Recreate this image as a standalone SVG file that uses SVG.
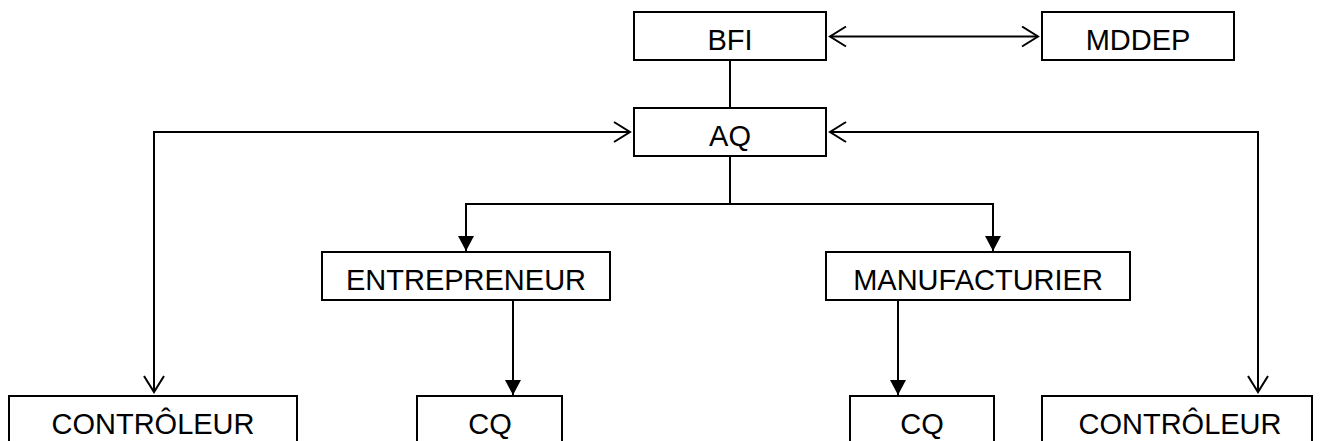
<svg xmlns="http://www.w3.org/2000/svg" width="1320" height="441" viewBox="0 0 1320 441">
<style>
  .box { fill: #ffffff; stroke: #000000; stroke-width: 2; }
  .lbl { font-family: "Liberation Sans", Arial, sans-serif; font-size: 29px; fill: #000000; text-anchor: middle; }
  .ln { fill: none; stroke: #000000; stroke-width: 2; }
</style>
<defs>
  <marker id="open" markerUnits="userSpaceOnUse" markerWidth="22" markerHeight="26" refX="18" refY="11" orient="auto-start-reverse">
    <path d="M2,1 L18,11 L2,21" fill="none" stroke="#000000" stroke-width="2"/>
  </marker>
  <marker id="solid" markerUnits="userSpaceOnUse" markerWidth="16" markerHeight="18" refX="15" refY="8" orient="auto">
    <path d="M0,0 L15,8 L0,16 Z" fill="#000000"/>
  </marker>
</defs>
<g id="connectors">
  <path class="ln" d="M830,36.5 H1038" marker-start="url(#open)" marker-end="url(#open)"/>
  <path class="ln" d="M730,60 V108"/>
  <path class="ln" d="M630,132 H154 V392" marker-start="url(#open)" marker-end="url(#open)"/>
  <path class="ln" d="M830,132 H1258 V392" marker-start="url(#open)" marker-end="url(#open)"/>
  <path class="ln" d="M730,156 V204"/>
  <path class="ln" d="M730,204 H466 V251" marker-end="url(#solid)"/>
  <path class="ln" d="M730,204 H993 V251" marker-end="url(#solid)"/>
  <path class="ln" d="M513,300 V395" marker-end="url(#solid)"/>
  <path class="ln" d="M898,300 V395" marker-end="url(#solid)"/>
</g>
<g id="bfi"><rect class="box" x="634" y="12" width="192" height="48"/><text class="lbl" x="730" y="50">BFI</text></g>
<g id="mddep"><rect class="box" x="1042" y="12" width="192" height="48"/><text class="lbl" x="1138" y="50">MDDEP</text></g>
<g id="aq"><rect class="box" x="634" y="108" width="192" height="48"/><text class="lbl" x="730" y="146">AQ</text></g>
<g id="entrepreneur"><rect class="box" x="322" y="252" width="288" height="48"/><text class="lbl" x="466" y="290">ENTREPRENEUR</text></g>
<g id="manufacturier"><rect class="box" x="826" y="252" width="304" height="48"/><text class="lbl" x="978" y="290">MANUFACTURIER</text></g>
<g id="controleur-left"><rect class="box" x="9" y="396" width="288" height="48"/><text class="lbl" x="153" y="434">CONTRÔLEUR</text></g>
<g id="cq-left"><rect class="box" x="417" y="396" width="145" height="48"/><text class="lbl" x="490" y="434">CQ</text></g>
<g id="cq-right"><rect class="box" x="850" y="396" width="144" height="48"/><text class="lbl" x="922" y="434">CQ</text></g>
<g id="controleur-right"><rect class="box" x="1042" y="396" width="270" height="48"/><text class="lbl" x="1180" y="434">CONTRÔLEUR</text></g>
</svg>
